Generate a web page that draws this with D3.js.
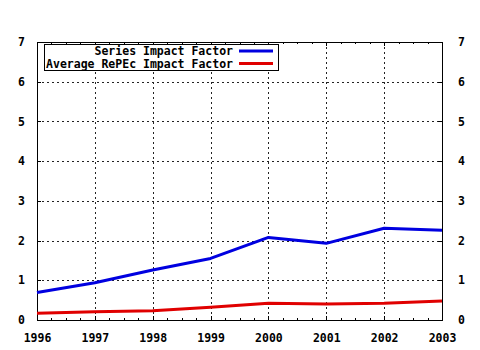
<!DOCTYPE html>
<html>
<head>
<meta charset="utf-8">
<script src="https://cdn.jsdelivr.net/npm/d3@7"></script>
<style>
  html, body { margin: 0; padding: 0; background: #fff; }
  svg text { font-family: "DejaVu Sans Mono", "Liberation Mono", monospace; font-weight: bold; font-size: 11.5px; fill: #000; }
</style>
</head>
<body>
<svg id="chart" width="480" height="350"></svg>
<script>
const years = [1996, 1997, 1998, 1999, 2000, 2001, 2002, 2003];
const seriesImpact = [0.69, 0.94, 1.26, 1.55, 2.08, 1.93, 2.31, 2.26];
const averageRepec = [0.17, 0.21, 0.23, 0.32, 0.42, 0.40, 0.42, 0.48];
const yTicks = [0, 1, 2, 3, 4, 5, 6, 7];
const seriesNames = ["Series Impact Factor", "Average RePEc Impact Factor"];
const seriesColors = ["#0000e0", "#e00000"];

const svg = d3.select("#chart");
const plotLeft = 37, plotRight = 442, plotTop = 42, plotBottom = 320;

const x = d3.scaleLinear().domain([1996, 2003]).range([plotLeft, plotRight]);
const y = d3.scaleLinear().domain([0, 7]).range([plotBottom, plotTop]);

// dotted grid
const grid = svg.append("g").attr("stroke", "#222").attr("stroke-width", 1)
  .attr("stroke-dasharray", "2,3").attr("shape-rendering", "crispEdges");
grid.selectAll("line.v").data(years.slice(1, -1)).join("line")
  .attr("x1", d => Math.round(x(d)) + 0.5).attr("x2", d => Math.round(x(d)) + 0.5)
  .attr("y1", plotTop).attr("y2", plotBottom);
grid.selectAll("line.h").data(yTicks.slice(1, -1)).join("line")
  .attr("x1", plotLeft).attr("x2", plotRight)
  .attr("y1", d => Math.round(y(d)) + 0.5).attr("y2", d => Math.round(y(d)) + 0.5);

// axes: ticks pointing into the plot
const minor = d3.range(1996, 2003.001, 0.25);
const fmt = d3.format("d");
const xBottom = d3.axisBottom(x).tickValues(years).tickFormat(fmt).tickSize(-4).tickPadding(14);
const xBottomMinor = d3.axisBottom(x).tickValues(minor).tickFormat("").tickSize(-2);
const xTop = d3.axisTop(x).tickValues(years).tickFormat("").tickSize(-4);
const xTopMinor = d3.axisTop(x).tickValues(minor).tickFormat("").tickSize(-2);
const yLeft = d3.axisLeft(y).tickValues(yTicks).tickFormat(fmt).tickSize(-4).tickPadding(12);
const yRight = d3.axisRight(y).tickValues(yTicks).tickFormat(fmt).tickSize(-4).tickPadding(16);

function styleAxis(g) {
  g.attr("shape-rendering", "crispEdges");
  g.selectAll("path, line").attr("stroke", "#000");
  g.selectAll("text").attr("fill", "#000");
  g.attr("font-family", null).attr("font-size", null);
}
svg.append("g").attr("transform", `translate(0,${plotBottom})`).call(xBottom).call(styleAxis);
svg.append("g").attr("transform", `translate(0,${plotBottom})`).call(xBottomMinor).call(styleAxis);
svg.append("g").attr("transform", `translate(0,${plotTop})`).call(xTop).call(styleAxis);
svg.append("g").attr("transform", `translate(0,${plotTop})`).call(xTopMinor).call(styleAxis);
svg.append("g").attr("transform", `translate(${plotLeft},0)`).call(yLeft).call(styleAxis);
svg.append("g").attr("transform", `translate(${plotRight},0)`).call(yRight).call(styleAxis);

// lines
const line = d3.line().x((d, i) => x(years[i])).y(d => y(d));
[seriesImpact, averageRepec].forEach((vals, i) => {
  svg.append("path").datum(vals)
    .attr("d", line)
    .attr("fill", "none")
    .attr("stroke", seriesColors[i])
    .attr("stroke-width", 3)
    .attr("stroke-linejoin", "round");
});

// legend
const lg = svg.append("g");
lg.append("rect").attr("x", 44.5).attr("y", 44.5).attr("width", 234).attr("height", 26)
  .attr("fill", "#fff").attr("stroke", "#000").attr("stroke-width", 1);
seriesNames.forEach((name, i) => {
  const yy = 51 + i * 12.5;
  lg.append("text").attr("x", 233).attr("y", yy + 4).attr("text-anchor", "end").text(name);
  lg.append("line").attr("x1", 239).attr("x2", 273).attr("y1", yy).attr("y2", yy)
    .attr("stroke", seriesColors[i]).attr("stroke-width", 3);
});
</script>
</body>
</html>
